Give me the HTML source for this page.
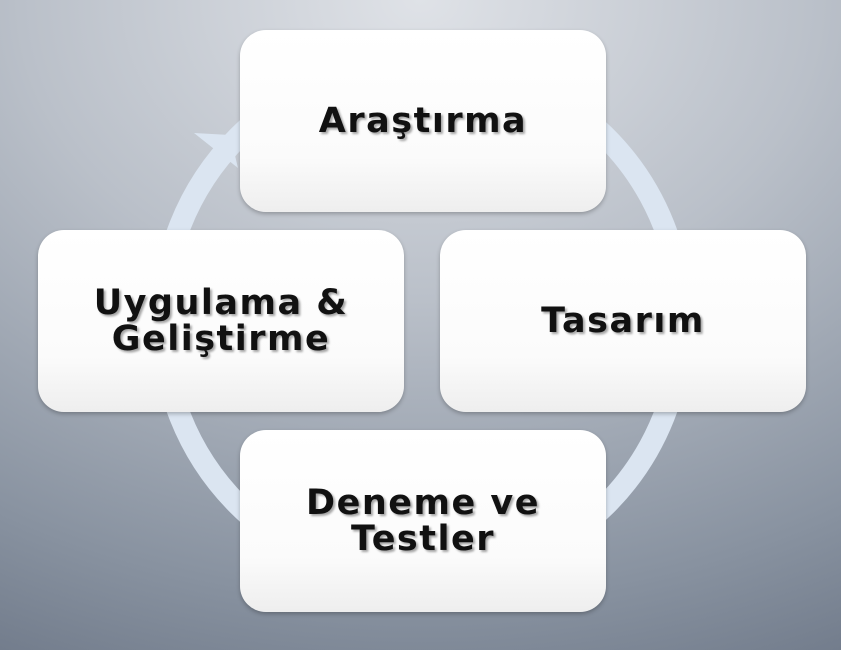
<!DOCTYPE html>
<html><head><style>
body{margin:0;width:841px;height:650px;overflow:hidden;background:radial-gradient(ellipse 1000px 750px at 420px 0px,#dfe2e7 0%,#bac0c9 40%,#8892a0 80%,#6e7888 100%);font-family:"DejaVu Sans","Liberation Sans",sans-serif;}
.b{position:absolute;width:366px;height:182px;border-radius:26px;background:linear-gradient(180deg,#ffffff 0%,#fbfbfb 70%,#eeeeee 100%);box-shadow:0 2px 4px rgba(0,0,0,.25);display:flex;align-items:center;justify-content:center;text-align:center;font-weight:bold;font-size:35px;letter-spacing:1.5px;line-height:36px;color:#111;text-shadow:2px 2px 2px rgba(0,0,0,.35);}
</style></head><body>
<svg width="841" height="650" style="position:absolute;left:0;top:0">
<circle cx="422" cy="321" r="260" fill="none" stroke="#dbe5f1" stroke-width="22"/>
<polygon points="194,133 230,135 238,168" fill="#dbe5f1"/>
</svg>
<div class="b" style="left:240px;top:30px">Araştırma</div>
<div class="b" style="left:440px;top:230px">Tasarım</div>
<div class="b" style="left:38px;top:230px">Uygulama &amp;<br>Geliştirme</div>
<div class="b" style="left:240px;top:430px">Deneme ve<br>Testler</div>
</body></html>
